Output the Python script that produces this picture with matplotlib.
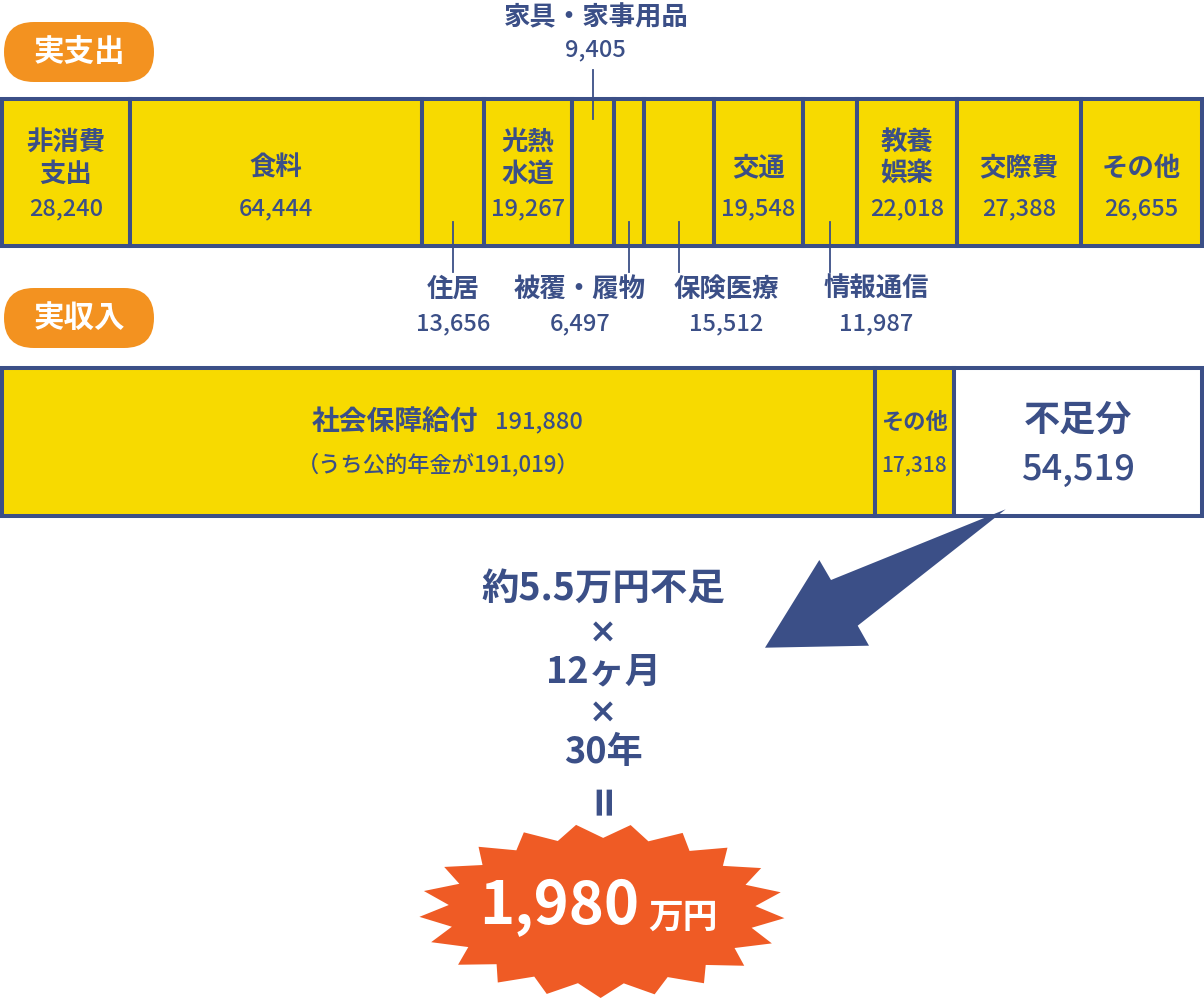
import matplotlib
matplotlib.use('Agg')
import matplotlib.pyplot as plt
import matplotlib.transforms as mtransforms
from matplotlib.patches import FancyBboxPatch, Polygon
from matplotlib.lines import Line2D
import numpy as np

plt.rcParams['font.family'] = ['Noto Sans CJK JP', 'DejaVu Sans']

NAVY = '#3B4F87'
YELLOW = '#F7DA00'
ORANGE = '#F39220'
RED = '#EF5B25'

# ---- data ----
exp_labels = ['非消費\n支出', '食料', '住居', '光熱\n水道', '家具・家事用品', '被覆・履物',
              '保険医療', '交通', '情報通信', '教養\n娯楽', '交際費', 'その他']
exp_values = [28240, 64444, 13656, 19267, 9405, 6497, 15512, 19548, 11987, 22018, 27388, 26655]

inc_labels = ['社会保障給付', 'その他', '不足分']
inc_values = [191880, 17318, 54519]
pension_value = 191019

shortfall_man = 5.5
months = 12
years = 30
total_man = 1980

# ---- layout (not data) ----
below_labels = {'住居': 0, '被覆・履物': -49, '保険医療': 47, '情報通信': 46}
above_labels = {'家具・家事用品': 3}

W, H = 1204, 1000
fig = plt.figure(figsize=(W / 100, H / 100), dpi=100)
fig.patch.set_facecolor('white')

def rect(x0, y0, x1, y1):
    return [x0 / W, 1 - y1 / H, (x1 - x0) / W, (y1 - y0) / H]

ax_e = fig.add_axes(rect(2, 99, 1202, 246))
ax_i = fig.add_axes(rect(2, 368, 1202, 516))
ax_p = fig.add_axes([0, 0, 1, 1])
ax_p.set_xlim(0, W)
ax_p.set_ylim(H, 0)
ax_p.axis('off')
ax_p.set_zorder(5)

exp_left = np.concatenate([[0], np.cumsum(exp_values)[:-1]])
bars = ax_e.barh(0, exp_values, left=exp_left, height=1, color=YELLOW,
                 edgecolor=NAVY, linewidth=2.9)
for b in bars:
    b.set_clip_on(False)
ax_e.set_xlim(0, sum(exp_values))
ax_e.set_ylim(-0.5, 0.5)
ax_e.axis('off')

inc_left = np.concatenate([[0], np.cumsum(inc_values)[:-1]])
inc_colors = [YELLOW, YELLOW, 'white']
bars = ax_i.barh(0, inc_values, left=inc_left, height=1, color=inc_colors,
                 edgecolor=NAVY, linewidth=2.9)
for b in bars:
    b.set_clip_on(False)
ax_i.set_xlim(0, sum(inc_values))
ax_i.set_ylim(-0.5, 0.5)
ax_i.axis('off')

fig.canvas.draw()
blend_e = mtransforms.blended_transform_factory(ax_e.transData, ax_p.transData)
blend_i = mtransforms.blended_transform_factory(ax_i.transData, ax_p.transData)

LAB = dict(color=NAVY, fontsize=19, fontweight='bold', ha='center', va='center')
NUM = dict(color=NAVY, fontsize=17, fontweight='medium', ha='center', va='center')

for lab, val, left in zip(exp_labels, exp_values, exp_left):
    cx = left + val / 2
    if lab in below_labels:
        dx = below_labels[lab]
        ax_p.add_line(Line2D([cx, cx], [222, 272], color=NAVY, lw=1.3, transform=blend_e))
        tr = mtransforms.offset_copy(blend_e, fig=fig, x=dx, y=0, units='dots')
        ax_p.text(cx, 289, lab, transform=tr, **LAB)
        ax_p.text(cx, 324, f'{val:,}', transform=tr, **NUM)
    elif lab in above_labels:
        dx = above_labels[lab]
        ax_p.add_line(Line2D([cx, cx], [70, 119], color=NAVY, lw=1.3, transform=blend_e))
        tr = mtransforms.offset_copy(blend_e, fig=fig, x=dx, y=0, units='dots')
        ax_p.text(cx, 18, lab, transform=tr, **LAB)
        ax_p.text(cx, 50, f'{val:,}', transform=tr, **NUM)
    else:
        lines = lab.split('\n')
        ys = [142, 174] if len(lines) == 2 else [168]
        for t, y in zip(lines, ys):
            ax_p.text(cx, y, t, transform=blend_e, **LAB)
        ax_p.text(cx, 209, f'{val:,}', transform=blend_e, **NUM)

# income texts
c0 = inc_left[0] + inc_values[0] / 2
tr_l = mtransforms.offset_copy(blend_i, fig=fig, x=40, y=0, units='dots')
ax_p.text(c0, 422, inc_labels[0], transform=tr_l, color=NAVY, fontsize=20,
          fontweight='bold', ha='right', va='center')
tr_r = mtransforms.offset_copy(blend_i, fig=fig, x=56, y=0, units='dots')
ax_p.text(c0, 422, f'{inc_values[0]:,}', transform=tr_r, color=NAVY, fontsize=17,
          fontweight='medium', ha='left', va='center')
ax_p.text(c0, 465, f'（うち公的年金が{pension_value:,}）', transform=blend_i,
          color=NAVY, fontsize=16, fontweight='medium', ha='center', va='center')
c1 = inc_left[1] + inc_values[1] / 2
ax_p.text(c1, 422, inc_labels[1], transform=blend_i, color=NAVY, fontsize=16,
          fontweight='bold', ha='center', va='center')
ax_p.text(c1, 466, f'{inc_values[1]:,}', transform=blend_i, color=NAVY, fontsize=15,
          fontweight='medium', ha='center', va='center')
c2 = inc_left[2] + inc_values[2] / 2
ax_p.text(c2, 420, inc_labels[2], transform=blend_i, color=NAVY, fontsize=26,
          fontweight='bold', ha='center', va='center')
ax_p.text(c2, 470, f'{inc_values[2]:,}', transform=blend_i, color=NAVY, fontsize=26,
          fontweight='medium', ha='center', va='center')

# pills
for (y0, txt) in [(22, '実支出'), (288, '実収入')]:
    ax_p.add_patch(FancyBboxPatch((4, y0), 150, 60, boxstyle='round,pad=0,rounding_size=30',
                                  fc=ORANGE, ec='none'))
    ax_p.text(79, y0 + 30, txt, color='white', fontsize=22, fontweight='bold',
              ha='center', va='center')

# arrow
arrow = [(1005.7, 509.3), (831, 580), (819.3, 560), (765, 647.7),
         (869, 645.7), (857.7, 625.7)]
ax_p.add_patch(Polygon(arrow, closed=True, fc=NAVY, ec='none', zorder=6))

# calculation text
CX = 603
ax_p.text(CX, 588, f'約{shortfall_man}万円不足', color=NAVY, fontsize=27, fontweight='bold',
          ha='center', va='center')
for y in (632, 712):
    ax_p.text(CX, y, '×', color=NAVY, fontsize=24, fontweight='bold', ha='center',
              va='center', family=['DejaVu Sans'])
ax_p.text(CX, 672, f'{months}ヶ月', color=NAVY, fontsize=26, fontweight='bold',
          ha='center', va='center')
ax_p.text(CX, 753, f'{years}年', color=NAVY, fontsize=26, fontweight='bold',
          ha='center', va='center')
ax_p.text(CX, 798, '=', color=NAVY, fontsize=30, fontweight='bold', ha='center',
          va='center', rotation=90, family=['DejaVu Sans'])

# starburst
n = 21
cx, cy, rx, ry = 602, 911, 183, 87
ang0 = np.deg2rad(-81)
pts = []
for k in range(n):
    a = ang0 + 2 * np.pi * k / n
    pts.append((cx + rx * np.cos(a), cy + ry * np.sin(a)))
    a2 = a + np.pi / n
    pts.append((cx + 0.84 * rx * np.cos(a2), cy + 0.84 * ry * np.sin(a2)))
ax_p.add_patch(Polygon(pts, closed=True, fc=RED, ec='none'))

ax_p.text(639, 907, f'{total_man:,}', color='white', fontsize=43, fontweight='bold',
          ha='right', va='center')
ax_p.text(648, 917, '万円', color='white', fontsize=25, fontweight='bold',
          ha='left', va='center')

fig.savefig('out.png', dpi=100, facecolor='white')
